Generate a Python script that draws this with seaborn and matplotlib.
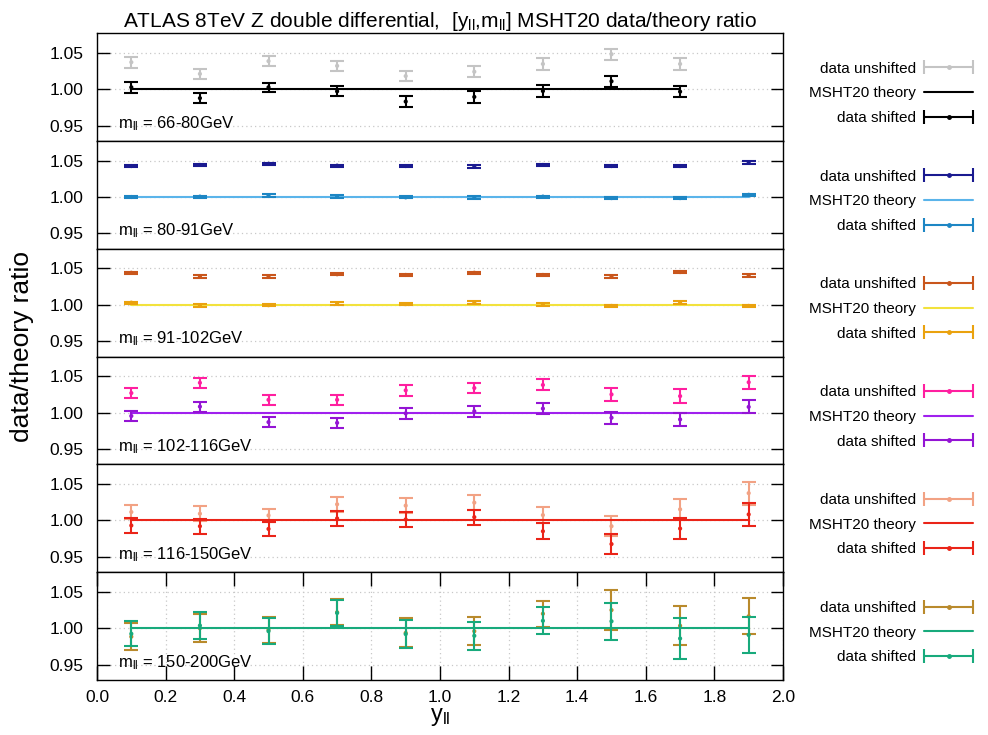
import numpy as np
import matplotlib
matplotlib.use("Agg")
import matplotlib.pyplot as plt
import seaborn as sns
from matplotlib.lines import Line2D
from matplotlib.legend_handler import HandlerLine2D

# ---------------------------------------------------------------------------
# ATLAS 8 TeV Z double-differential cross section, data / MSHT20 theory ratio
# ---------------------------------------------------------------------------
y_bins = [0.1, 0.3, 0.5, 0.7, 0.9, 1.1, 1.3, 1.5, 1.7, 1.9]

mass_labels = ["66-80GeV", "80-91GeV", "91-102GeV", "102-116GeV", "116-150GeV", "150-200GeV"]

# m_ll = 66-80 GeV (nine rapidity bins)
unshifted_66_80 = [1.037, 1.021, 1.0385, 1.032, 1.018, 1.024, 1.0346, 1.048, 1.0346]
shifted_66_80 = [1.0026, 0.9877, 1.0026, 0.997, 0.983, 0.9894, 0.9974, 1.0108, 0.9966]
err_66_80 = [0.0075, 0.007, 0.0065, 0.007, 0.007, 0.0077, 0.0082, 0.0075, 0.0077]

# m_ll = 80-91 GeV
unshifted_80_91 = [1.0425, 1.044, 1.0455, 1.043, 1.0425, 1.042, 1.044, 1.0425, 1.0425, 1.047]
shifted_80_91 = [1.000, 1.0005, 1.002, 1.0005, 0.9995, 0.9995, 1.0005, 0.9985, 0.9985, 1.003]
err_80_91 = [0.0018, 0.0015, 0.0015, 0.0016, 0.0015, 0.0016, 0.0015, 0.0018, 0.0018, 0.0018]

# m_ll = 91-102 GeV
unshifted_91_102 = [1.044, 1.039, 1.039, 1.042, 1.041, 1.044, 1.041, 1.039, 1.045, 1.040]
shifted_91_102 = [1.003, 0.999, 0.9995, 1.002, 1.001, 1.003, 1.0005, 0.9985, 1.0035, 0.9985]
err_91_102 = [0.0015, 0.0015, 0.0015, 0.0017, 0.0016, 0.0017, 0.0016, 0.0018, 0.0018, 0.0018]

# m_ll = 102-116 GeV
unshifted_102_116 = [1.0269, 1.041, 1.0176, 1.0176, 1.0306, 1.0338, 1.038, 1.025, 1.0227, 1.0417]
shifted_102_116 = [0.9954, 1.0083, 0.987, 0.986, 0.999, 1.0019, 1.0056, 0.993, 0.9907, 1.0079]
err_102_116 = [0.007, 0.0068, 0.007, 0.007, 0.0073, 0.0072, 0.0075, 0.0085, 0.0092, 0.0088]

# m_ll = 116-150 GeV
unshifted_116_150 = [1.0116, 1.0093, 1.0069, 1.0222, 1.0204, 1.0245, 1.0074, 0.9921, 1.0153, 1.0375]
shifted_116_150 = [0.9931, 0.9921, 0.9884, 1.0028, 1.0014, 1.0046, 0.9852, 0.9676, 0.9889, 1.0083]
err_116_150 = [0.0097, 0.0100, 0.0093, 0.0099, 0.0102, 0.0104, 0.0108, 0.0137, 0.0143, 0.0157]

# m_ll = 150-200 GeV
unshifted_150_200 = [0.9885, 1.000, 0.998, 1.022, 0.9937, 0.996, 1.020, 1.025, 1.0035, 1.0165]
err_unshifted_150_200 = [0.0186, 0.019, 0.018, 0.018, 0.020, 0.019, 0.018, 0.027, 0.0266, 0.025]
shifted_150_200 = [0.9925, 1.0038, 0.996, 1.021, 0.992, 0.9897, 1.0103, 1.0096, 0.986, 0.9908]
err_shifted_150_200 = [0.0174, 0.0183, 0.018, 0.018, 0.019, 0.019, 0.0188, 0.025, 0.0277, 0.025]

# theory normalised to itself
theory_ratio = 1.0

panels = [
    (unshifted_66_80, err_66_80, shifted_66_80, err_66_80),
    (unshifted_80_91, err_80_91, shifted_80_91, err_80_91),
    (unshifted_91_102, err_91_102, shifted_91_102, err_91_102),
    (unshifted_102_116, err_102_116, shifted_102_116, err_102_116),
    (unshifted_116_150, err_116_150, shifted_116_150, err_116_150),
    (unshifted_150_200, err_unshifted_150_200, shifted_150_200, err_shifted_150_200),
]

# (unshifted, theory, shifted) colours for each mass window
colours = [
    ("#c4c4c4", "#000000", "#000000"),
    ("#1a1a90", "#5ab4ea", "#1d86c4"),
    ("#c9561c", "#f2e23c", "#eaa20e"),
    ("#ff1fa0", "#a020ee", "#9414d4"),
    ("#f2a284", "#ea2418", "#ea2418"),
    ("#b98a2c", "#18aa7c", "#18aa7c"),
]

sns.set_theme(style="white")
plt.rcParams["font.family"] = ["Liberation Sans", "DejaVu Sans"]
plt.rcParams["mathtext.fontset"] = "custom"
plt.rcParams["mathtext.rm"] = "Liberation Sans"
plt.rcParams["mathtext.it"] = "Liberation Sans:italic"
plt.rcParams["axes.edgecolor"] = "black"
plt.rcParams["axes.linewidth"] = 1.0
plt.rcParams["text.color"] = "black"
plt.rcParams["axes.labelcolor"] = "black"
plt.rcParams["xtick.color"] = "black"
plt.rcParams["ytick.color"] = "black"

fig, axes = plt.subplots(6, 1, figsize=(9.88, 7.35), dpi=100, sharex=True,
                         gridspec_kw=dict(hspace=0))
fig.subplots_adjust(left=0.0982, right=0.7925, top=0.955, bottom=0.0748)

lw = 1.5
tick_vals = np.arange(0, 2.01, 0.2)
for i, (ax, (unsh, eu, sh, es), (cu, ct, cs), mlab) in enumerate(
        zip(axes, panels, colours, mass_labels)):
    xs = y_bins[:len(sh)]

    # unshifted data
    ax.errorbar(xs, unsh, yerr=eu, fmt="none", ecolor=cu, elinewidth=lw,
                capsize=5, capthick=lw, zorder=2)
    sns.scatterplot(x=xs, y=unsh, ax=ax, color=cu, s=9, edgecolor="none",
                    zorder=3, legend=False)
    # theory reference
    sns.lineplot(x=xs, y=np.full(len(xs), theory_ratio), ax=ax, color=ct,
                 lw=lw, zorder=4, legend=False)
    # shifted data
    ax.errorbar(xs, sh, yerr=es, fmt="none", ecolor=cs, elinewidth=lw,
                capsize=5, capthick=lw, zorder=5)
    sns.scatterplot(x=xs, y=sh, ax=ax, color=cs, s=9, edgecolor="none",
                    zorder=6, legend=False)

    ax.set_xlim(0, 2)
    ax.set_ylim(0.929, 1.077)
    ax.set_yticks([0.95, 1.00, 1.05])
    ax.set_yticklabels(["0.95", "1.00", "1.05"])
    ax.yaxis.grid(True, linestyle=(0, (1, 2.5)), color="#c8c8c8", lw=0.9)
    ax.tick_params(axis="y", direction="in", left=True, right=True, length=9,
                   width=1, labelsize=12.5, color="black", labelcolor="black", pad=10)
    for sp in ax.spines.values():
        sp.set_visible(True)
        sp.set_color("black")
    ax.set_ylabel("")

    ax.text(0.03, 0.12, r"m$_{\rm ll}$ = " + mlab, transform=ax.transAxes,
            fontsize=12, va="baseline", ha="left", color="black")

    # legend: text first, errorbar-style sample on the right
    cap_u = Line2D([], [], color=cu, lw=lw, marker="|", markersize=10, markeredgewidth=lw)
    dot_u = Line2D([], [], color=cu, ls="none", marker="o", markersize=2.5)
    th = Line2D([], [], color=ct, lw=lw)
    cap_s = Line2D([], [], color=cs, lw=lw, marker="|", markersize=10, markeredgewidth=lw)
    dot_s = Line2D([], [], color=cs, ls="none", marker="o", markersize=2.5)
    leg = ax.legend([(cap_u, dot_u), th, (cap_s, dot_s)],
                    ["data unshifted", "MSHT20 theory", "data shifted"],
                    handler_map={cap_u: HandlerLine2D(numpoints=2, marker_pad=0),
                                 cap_s: HandlerLine2D(numpoints=2, marker_pad=0)},
                    loc="center right", bbox_to_anchor=(1.277, 0.44),
                    frameon=False, markerfirst=False, fontsize=11,
                    handlelength=3.2, handletextpad=0.55, labelspacing=0.7,
                    borderpad=0, borderaxespad=0)
    for t in leg.get_texts():
        t.set_color("black")

    if i < 5:
        ax.tick_params(axis="x", bottom=False, top=False, labelbottom=False)
    else:
        ax.set_xticks(tick_vals)
        ax.set_xticklabels([f"{v:.1f}" for v in tick_vals])
        ax.xaxis.grid(True, linestyle=(0, (1, 2.5)), color="#c8c8c8", lw=0.9)
        ax.tick_params(axis="x", direction="in", bottom=True, top=True,
                       length=10, width=1, labelsize=12.5, color="black",
                       labelcolor="black", pad=7)
        ax.set_xlabel(r"y$_{\rm ll}$", fontsize=17, labelpad=1, color="black")

axes[0].set_title(r"ATLAS 8TeV Z double differential,  [y$_{\rm ll}$,m$_{\rm ll}$] "
                  "MSHT20 data/theory ratio", fontsize=15, pad=4, color="black")
fig.text(0.022, 0.528, "data/theory ratio", rotation=90, fontsize=19,
         ha="center", va="center", color="black")

fig.savefig("out.png", dpi=100)
